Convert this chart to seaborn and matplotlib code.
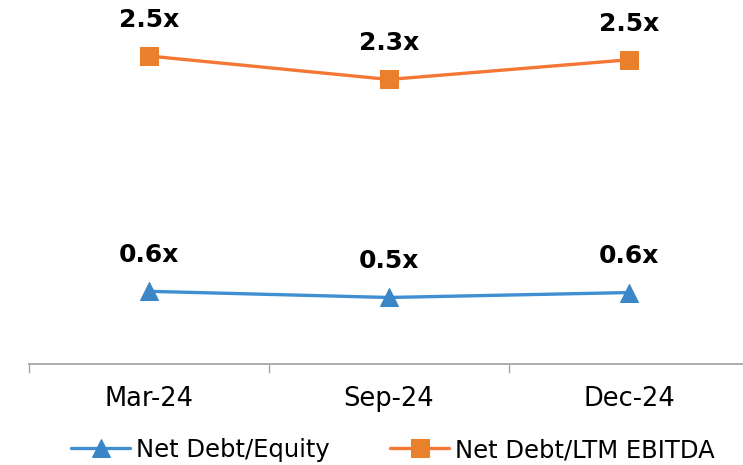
import seaborn as sns
import matplotlib.pyplot as plt
import pandas as pd

periods = ['Mar-24', 'Sep-24', 'Dec-24']
debt_equity = [0.59, 0.54, 0.58]
debt_ebitda = [2.50, 2.31, 2.47]
labels_equity = ['0.6x', '0.5x', '0.6x']
labels_ebitda = ['2.5x', '2.3x', '2.5x']

df = pd.DataFrame({'Period': periods, 'Equity': debt_equity, 'EBITDA': debt_ebitda})

sns.set_style('white')
plt.rcParams['font.family'] = ['DejaVu Sans']
plt.rcParams['text.color'] = 'black'
plt.rcParams['xtick.color'] = 'black'

fig = plt.figure(figsize=(7.43, 4.65), dpi=100)
ax = fig.add_axes([29 / 743, 1 - 364 / 465, 720 / 743, 364 / 465])

sns.lineplot(data=df, x='Period', y='Equity', ax=ax, color='#3f8fd2', linewidth=2.4,
             marker='^', markersize=12.5, markerfacecolor='#3a86c6', markeredgecolor='#3a86c6',
             label='Net Debt/Equity', sort=False)
sns.lineplot(data=df, x='Period', y='EBITDA', ax=ax, color='#f47735', linewidth=2.4,
             marker='s', markersize=12.5, markerfacecolor='#e8802c', markeredgecolor='#e8802c',
             label='Net Debt/LTM EBITDA', sort=False)

for i in range(len(periods)):
    ax.annotate(labels_equity[i], (i, debt_equity[i]), xytext=(0, 26), textcoords='offset points',
                ha='center', va='center', fontsize=18, fontweight='bold', annotation_clip=False)
    ax.annotate(labels_ebitda[i], (i, debt_ebitda[i]), xytext=(0, 26), textcoords='offset points',
                ha='center', va='center', fontsize=18, fontweight='bold', annotation_clip=False)

ax.set_xlim(-0.5, 2.5)
ax.set_ylim(0, 2.955)
ax.set_yticks([])
ax.set_xlabel('')
ax.set_ylabel('')
for s in ['top', 'right', 'left']:
    ax.spines[s].set_visible(False)
ax.spines['bottom'].set_color('#a6a6a6')
ax.spines['bottom'].set_linewidth(1.3)

ax.set_xticks(range(len(periods)))
ax.set_xticklabels(periods, fontsize=18.5)
ax.set_xticks([-0.5, 0.5, 1.5, 2.5], minor=True)
ax.tick_params(axis='x', which='major', length=0, pad=16)
ax.tick_params(axis='x', which='minor', length=6.5, width=1, color='#a6a6a6', direction='out', bottom=True)

handles, labs = ax.get_legend_handles_labels()
ax.get_legend().remove()
fig.legend(handles, labs, loc='center', bbox_to_anchor=(393 / 743, 1 - 450 / 465), ncol=2,
           frameon=False, fontsize=17.5, handlelength=2.4, handletextpad=0.25, columnspacing=2.5,
           borderpad=0)

fig.savefig('out.png', dpi=100)
